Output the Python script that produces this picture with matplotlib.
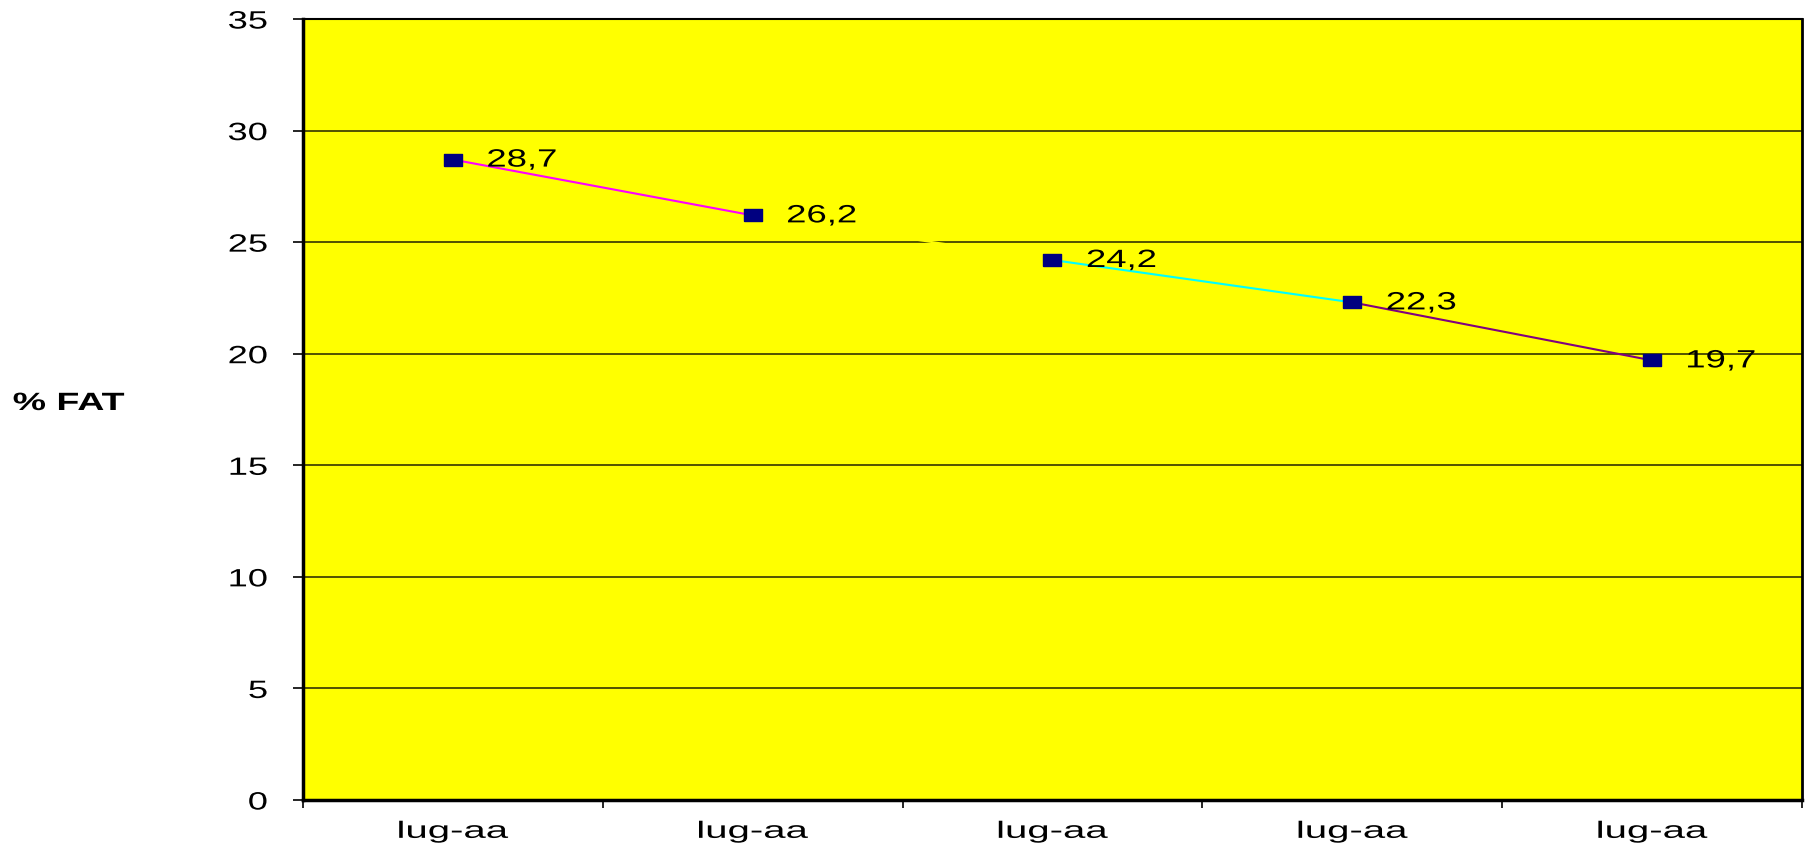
import matplotlib
matplotlib.use("Agg")
import matplotlib.pyplot as plt
from matplotlib.patheffects import AbstractPathEffect
from matplotlib.transforms import Affine2D

# monthly fat percentage
months = ["lug-aa", "lug-aa", "lug-aa", "lug-aa", "lug-aa"]
fat_pct = [28.7, 26.2, 24.2, 22.3, 19.7]
fat_labels = ["28,7", "26,2", "24,2", "22,3", "19,7"]
segment_colors = ["#FF00FF", "#FFFF00", "#00FFFF", "#800080"]


class StretchX(AbstractPathEffect):
    """Widen text glyphs horizontally, keeping the aligned edge in place."""

    def __init__(self, sx, anchor="left"):
        super().__init__()
        self.sx = sx
        self.anchor = anchor

    def draw_path(self, renderer, gc, tpath, affine, rgbFace=None):
        ext = tpath.get_extents()
        x0 = {"left": ext.x0, "center": (ext.x0 + ext.x1) / 2,
              "right": ext.x1}[self.anchor]
        t = Affine2D().translate(-x0, 0).scale(self.sx, 1).translate(x0, 0)
        renderer.draw_path(gc, tpath, t + affine, rgbFace)


plt.rcParams["font.family"] = ["Liberation Sans", "DejaVu Sans"]

fig = plt.figure(figsize=(18.06, 8.47), dpi=100)
ax = fig.add_axes([303 / 1806, 47 / 847, 1499 / 1806, 781 / 847])
ax.set_facecolor("#FFFF00")

x = list(range(1, len(fat_pct) + 1))

# each segment gets its own colour
for i, c in enumerate(segment_colors):
    ax.plot(x[i:i + 2], fat_pct[i:i + 2], color=c, lw=1.5, zorder=3,
            solid_capstyle="butt")

rect = [(-1.5, -1), (1.5, -1), (1.5, 1), (-1.5, 1), (-1.5, -1)]
ax.plot(x, fat_pct, ls="none", marker=rect, ms=13, color="#000080", zorder=4)

for xi, yi, lab in zip(x, fat_pct, fat_labels):
    ax.annotate(lab, (xi, yi), xytext=(24.5, 0), textcoords="offset points",
                ha="left", va="center", fontsize=18, color="black", zorder=5,
                path_effects=[StretchX(1.46, "left")])

ax.set_xlim(0.5, len(fat_pct) + 0.5)
ax.set_ylim(0, 35)
ax.set_yticks(range(0, 36, 5))
ax.yaxis.grid(True, color="#333300", lw=1.2, zorder=1)
ax.set_axisbelow(True)

# category boundaries get the tick marks, names sit in the middle
ax.set_xticks([i + 0.5 for i in range(0, len(fat_pct) + 1)])
ax.set_xticklabels([])
ax.set_xticks(x, minor=True)
ax.set_xticklabels(months, minor=True, fontsize=17)
ax.tick_params(axis="x", which="major", direction="out", length=6, width=1.2)
ax.tick_params(axis="x", which="minor", length=0, pad=15)
ax.tick_params(axis="y", direction="out", length=7, width=1.2, pad=18.5,
               labelsize=18)

for lab in ax.get_yticklabels():
    lab.set_path_effects([StretchX(1.45, "right")])
for lab in ax.get_xticklabels(minor=True):
    lab.set_path_effects([StretchX(1.7, "center")])

for side, w in [("left", 2.5), ("bottom", 2.5), ("right", 2), ("top", 1.5)]:
    ax.spines[side].set_linewidth(w)
    ax.spines[side].set_color("black")

fig.text(13 / 1806, 1 - 403 / 847, "% FAT", fontsize=18, fontweight="bold",
         ha="left", va="center", path_effects=[StretchX(1.5, "left")])

fig.savefig("out.png", dpi=100, facecolor="white")
